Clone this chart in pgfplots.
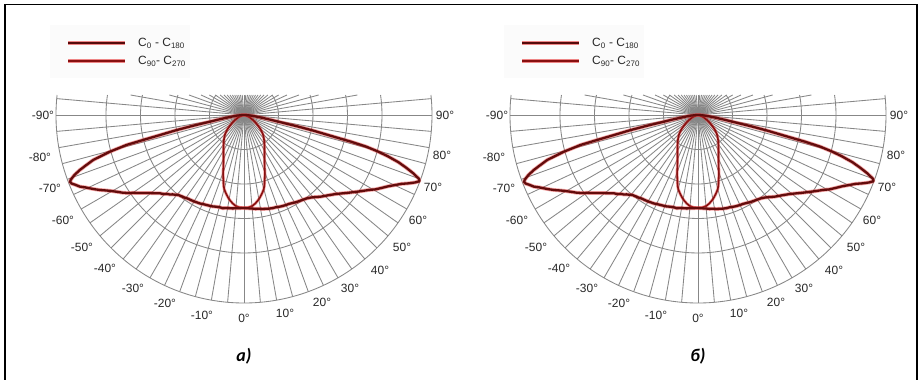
\documentclass[border=0pt]{standalone}
\usepackage{pgfplots}
\pgfplotsset{compat=1.18}
\usepackage{pgfplotstable}
\usepackage{fontspec}
\setmainfont{Liberation Sans}
\newfontfamily\capfont{Carlito}

\definecolor{gridgray}{RGB}{135,135,135}
\definecolor{czero}{RGB}{100,12,12}
\definecolor{cninety}{RGB}{135,16,16}
\definecolor{halo}{RGB}{230,55,55}
\definecolor{labelgray}{RGB}{40,40,40}

% C0 - C180 : angle (deg, 0 = downward), relative intensity
\pgfplotstableread{
a r
-90 0
-87 3
-85 7
-83 11
-81.1 17.5
-80 25
-78.9 34.7
-78.1 51.8
-77.4 69
-76.6 86.3
-76.1 103.8
-75.7 121.1
-74.7 138.9
-73.4 157.3
-72.2 167
-71.5 173
-70.5 180
-69.5 185
-69 186.3
-68.3 185.5
-67.5 182.5
-66.4 179
-65.5 174.5
-64.5 170.5
-63.5 166.5
-62.5 162.4
-61.5 158
-60.5 154
-59.5 150.6
-58.9 148.6
-57.5 144.5
-56 139.6
-55 135.7
-54 132.6
-53 129.5
-52 126.8
-51 124
-50 121.5
-49 119.2
-48 117
-47 114.8
-46 113.5
-45 111.7
-44 109.9
-43 108.7
-42 106.8
-41 105.6
-40 104.2
-39 103.2
-38 102.8
-37 102.2
-36 101.9
-35 101.3
-34 100.8
-32 100.3
-30 99.8
-28 99.2
-26.5 98.9
-25 98.1
-23 97.6
-21 97.1
-19 96.7
-17 95.9
-15 95.4
-13 95.6
-11 94.8
-9 94.3
-7 94.1
-5 93.6
-3 93.3
0 93
3 93.5
5 93.9
7 94.6
9 94.9
11 95.7
13 96.3
15 96.9
17 97.4
19 97.6
21 98.3
23 98.9
25 99.3
27 99.7
29 100.6
31 101.6
33 102.4
35 103.3
37 104.4
39 106.2
41 108.7
43 111.8
45 114.4
47 117.3
49 120.6
51 124.7
53 129.4
55 134.4
57 139.8
59 145.6
60.5 151
62 155.5
63.5 160.2
65 166
66.4 172
67.5 178.5
68.5 184
69.3 187.5
70 186
71 179
72 170.5
73 161.5
74 149.5
74.8 138
75.5 126
76 110
76.5 90
77.3 71
78 54
78.8 37
80 26
81.5 17
84 9.5
87 4
90 0
}\czerodata

% C90 - C270
\pgfplotstableread{
a r
-90 0
-80 2
-70 5
-65 7.5
-60 11
-55 15.5
-50 21
-45 26.5
-40 31
-35 35.5
-30 41
-25 48.5
-22 55
-20 61
-18 67
-15 76.5
-10 85.5
-5 91.5
0 93
5 91.5
10 85.5
15 76.5
18 67
20 61
22 55
25 48.5
30 41
35 35.5
40 31
45 26.5
50 21
55 15.5
60 11
65 7.5
70 5
80 2
90 0
}\cninetydata

\tikzset{gridline/.style={draw=gridgray, line width=0.85bp},
  deglabel/.style={font=\fontsize{12}{13}\selectfont, text=labelgray, inner sep=0pt}}

\newcommand{\polarpanel}[1]{%
  % radial grid lines (lower half, full length)
  \pgfplotsinvokeforeach{180,185,...,360}{%
    \draw[gridline] (axis cs:0,0) -- (axis cs:{188*cos(##1)},{188*sin(##1)});}%
  % radial grid lines above the horizontal, cut 20 units above the centre
  \pgfplotsinvokeforeach{5,10,...,175}{%
    \draw[gridline] (axis cs:0,0) -- (axis cs:{min(188,20/sin(##1))*cos(##1)},{min(188,20/sin(##1))*sin(##1)});}%
  % rings
  \pgfplotsinvokeforeach{34.5,69,103.5,138,188}{%
    \draw[gridline] (axis cs:{##1*cos(180-asin(20/##1))},{##1*sin(180-asin(20/##1))})
      arc[start angle={180-asin(20/##1)}, end angle={360+asin(20/##1)}, radius=##1bp];}%
  % angle labels
  \node[deglabel] at (axis cs:-201,0) {-90°};
  \node[deglabel] at (axis cs:-204,-42) {-80°};
  \node[deglabel] at (axis cs:-194,-73) {-70°};
  \node[deglabel] at (axis cs:-181,-105) {-60°};
  \node[deglabel] at (axis cs:-162,-132) {-50°};
  \node[deglabel] at (axis cs:-139,-153) {-40°};
  \node[deglabel] at (axis cs:-111,-173) {-30°};
  \node[deglabel] at (axis cs:-79,-188) {-20°};
  \node[deglabel] at (axis cs:-42,-200) {-10°};
  \node[deglabel] at (axis cs:0,-203) {0°};
  \node[deglabel] at (axis cs:41,-198) {10°};
  \node[deglabel] at (axis cs:78,-187) {20°};
  \node[deglabel] at (axis cs:106,-173) {30°};
  \node[deglabel] at (axis cs:136,-155) {40°};
  \node[deglabel] at (axis cs:158,-132) {50°};
  \node[deglabel] at (axis cs:174,-105) {60°};
  \node[deglabel] at (axis cs:189,-72) {70°};
  \node[deglabel] at (axis cs:198,-40) {80°};
  \node[deglabel] at (axis cs:201,0) {90°};
  % curves
  \addplot[cninety, line width=1.6bp, smooth, line join=round,
    preaction={draw=halo, line width=3bp, opacity=0.45}]
    table[x expr={\thisrow{r}*sin(\thisrow{a})}, y expr={-\thisrow{r}*cos(\thisrow{a})}] {\cninetydata};
  \addplot[czero, line width=2.3bp, line join=round,
    preaction={draw=halo, line width=3.8bp, opacity=0.45}]
    table[x expr={\thisrow{r}*sin(\thisrow{a})}, y expr={-\thisrow{r}*cos(\thisrow{a})}] {\czerodata};
  % legend
  \fill[black!1.5] (axis cs:-194,90) rectangle (axis cs:-54,37);
  \draw[halo, opacity=0.6, line width=4bp] (axis cs:-176,71.7) -- (axis cs:-119,71.7);
  \draw[czero!85!black, line width=2.4bp] (axis cs:-176,71.7) -- (axis cs:-119,71.7);
  \draw[halo, opacity=0.6, line width=3.6bp] (axis cs:-176,54) -- (axis cs:-119,54);
  \draw[cninety, line width=2bp] (axis cs:-176,54) -- (axis cs:-119,54);
  \node[anchor=west, inner sep=0pt, font=\fontsize{12}{13}\selectfont, text=labelgray] at (axis cs:-106,71.7) {C\textsubscript{0} - C\textsubscript{180}};
  \node[anchor=west, inner sep=0pt, font=\fontsize{12}{13}\selectfont, text=labelgray] at (axis cs:-106,54) {C\textsubscript{90}- C\textsubscript{270}};
  % caption
  \node[font=\capfont\bfseries\itshape\fontsize{18}{20}\selectfont] at (axis cs:0,-241) {#1};
}

\begin{document}
\begin{tikzpicture}
\path[use as bounding box] (0,0) rectangle (923bp,380bp);
\fill[white] (0,0) rectangle (923bp,380bp);
\begin{axis}[at={(0,0)}, anchor=south west, x=1bp, y=1bp,
  xmin=-244, xmax=210, ymin=-265, ymax=115, hide axis, clip=false]
\polarpanel{а)}
\end{axis}
\begin{axis}[at={(454bp,0)}, anchor=south west, x=1bp, y=1bp,
  xmin=-244, xmax=210, ymin=-265, ymax=115, hide axis, clip=false]
\polarpanel{б)}
\end{axis}
\draw[line width=1.5bp] (5bp,0) -- (5bp,375.5bp) -- (917bp,375.5bp) -- (917bp,0);
\end{tikzpicture}
\end{document}
